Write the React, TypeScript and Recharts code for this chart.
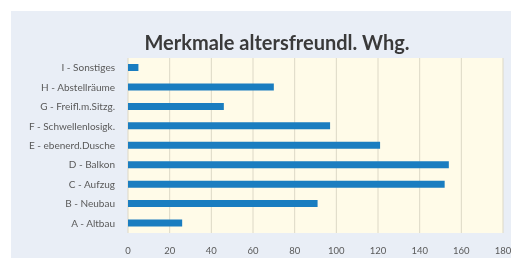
import React from "react";
import { Bar, BarChart, CartesianGrid, XAxis, YAxis } from "recharts";

const categories = [
  "I - Sonstiges",
  "H - Abstellräume",
  "G - Freifl.m.Sitzg.",
  "F - Schwellenlosigk.",
  "E - ebenerd.Dusche",
  "D - Balkon",
  "C - Aufzug",
  "B - Neubau",
  "A - Altbau",
];
const values = [5, 70, 46, 97, 121, 154, 152, 91, 26];
const xTicks = [0, 20, 40, 60, 80, 100, 120, 140, 160, 180];

const data = categories.map((name, i) => ({ name, value: values[i] }));

const font = "Lato, 'Open Sans', sans-serif";

// single-line category label, no wrapping
function CategoryTick(props: any) {
  const { x, y, payload } = props;
  return (
    <text
      x={x - 5}
      y={y}
      dy={3.5}
      textAnchor="end"
      fontSize={10}
      fill="#595959"
      fontFamily={font}
    >
      {payload.value}
    </text>
  );
}

export default function App() {
  return (
    <div
      style={{
        position: "fixed",
        left: 0,
        top: 0,
        width: 525,
        height: 269,
        background: "#ffffff",
        fontFamily: font,
      }}
    >
      <div
        style={{
          position: "absolute",
          left: 11,
          top: 11,
          width: 500,
          height: 247,
          background: "#e9eef6",
        }}
      >
        <div
          style={{
            position: "absolute",
            left: 16,
            top: 17,
            width: 500,
            textAlign: "center",
            fontSize: 20,
            fontWeight: 700,
            color: "#3a3a3a",
            lineHeight: "28px",
          }}
        >
          Merkmale altersfreundl. Whg.
        </div>
        <BarChart
          width={500}
          height={247}
          layout="vertical"
          data={data}
          margin={{ top: 47, right: 8, bottom: 0, left: 0 }}
          barCategoryGap={0}
        >
          <CartesianGrid
            horizontal={false}
            stroke="#ddd8c6"
            fill="#fffbe8"
            fillOpacity={1}
          />
          <XAxis
            type="number"
            domain={[0, 180]}
            ticks={xTicks}
            interval={0}
            axisLine={false}
            tickLine={false}
            height={25}
            tick={{ fontSize: 9.5, fill: "#595959", fontFamily: font, dy: 6 }}
          />
          <YAxis
            type="category"
            dataKey="name"
            width={117}
            axisLine={false}
            tickLine={false}
            interval={0}
            tick={<CategoryTick />}
          />
          <Bar dataKey="value" fill="#1a7dc0" barSize={7} isAnimationActive={false} />
        </BarChart>
      </div>
    </div>
  );
}
